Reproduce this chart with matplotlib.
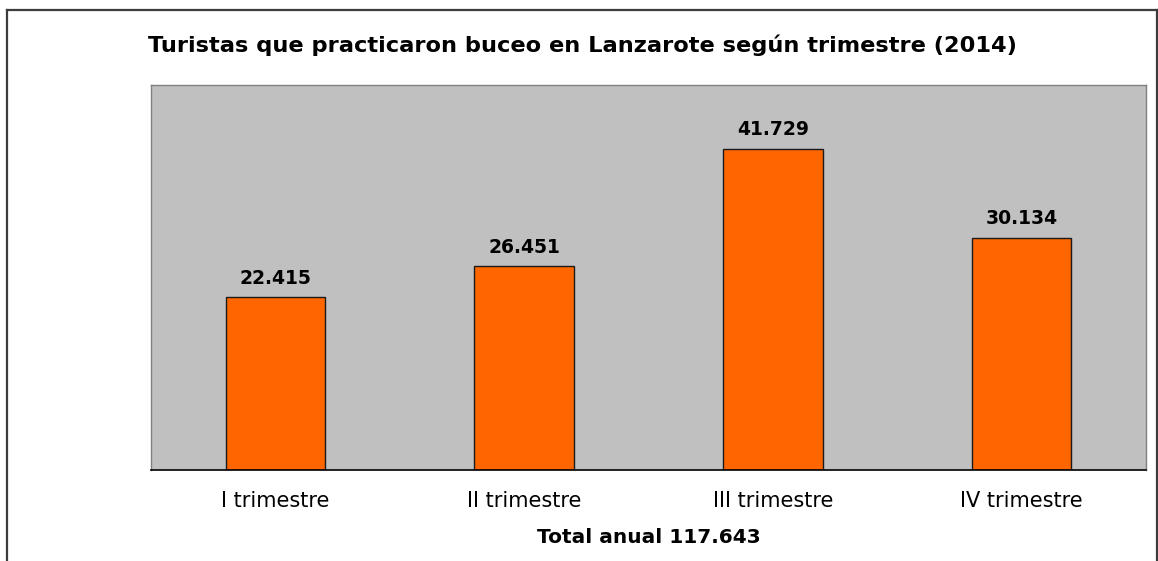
import matplotlib
matplotlib.use("Agg")
import matplotlib.pyplot as plt
from matplotlib.lines import Line2D

# data (thousands of tourists)
categories = ["I trimestre", "II trimestre", "III trimestre", "IV trimestre"]
values = [22.415, 26.451, 41.729, 30.134]
value_labels = ["22.415", "26.451", "41.729", "30.134"]
total_label = "Total anual 117.643"
title = "Turistas que practicaron buceo en Lanzarote según trimestre (2014)"

plt.rcParams["font.family"] = ["DejaVu Sans"]

fig = plt.figure(figsize=(11.58, 5.61), dpi=100)
ax = fig.add_axes([0.1304, 0.1622, 0.8592, 0.6863])
ax.set_facecolor("#c0c0c0")

x = range(len(categories))
bars = ax.bar(x, values, width=0.4, color="#ff6600",
              edgecolor="#1a1a1a", linewidth=1)

for bar, lab in zip(bars, value_labels):
    ax.annotate(lab, (bar.get_x() + bar.get_width() / 2, bar.get_height()),
                xytext=(0, 7), textcoords="offset points",
                ha="center", va="bottom", fontsize=13.5, fontweight="bold")

ax.set_xlim(-0.5, 3.5)
ax.set_ylim(0, 50)
ax.set_xticks(list(x))
ax.set_xticklabels(categories, fontsize=15)
ax.set_yticks([])
ax.tick_params(axis="x", length=0, pad=15)
ax.set_xlabel(total_label, fontsize=14.5, fontweight="bold", labelpad=12)

for side in ["left", "top", "right"]:
    ax.spines[side].set_color("#808080")
    ax.spines[side].set_linewidth(1)
ax.spines["bottom"].set_color("black")
ax.spines["bottom"].set_linewidth(1.2)

fig.text(0.503, 0.92, title, ha="center", va="center",
         fontsize=16.2, fontweight="bold")

# outer frame (open at the bottom)
fx0, fx1, fy1 = 7.5 / 1158, 1156.5 / 1158, 1 - 10 / 561
frame_kw = dict(color="#3c3c3c", linewidth=1.6, transform=fig.transFigure)
fig.add_artist(Line2D([fx0, fx0], [0, fy1], **frame_kw))
fig.add_artist(Line2D([fx0, fx1], [fy1, fy1], **frame_kw))
fig.add_artist(Line2D([fx1, fx1], [0, fy1], **frame_kw))

fig.savefig("out.png", dpi=100)
